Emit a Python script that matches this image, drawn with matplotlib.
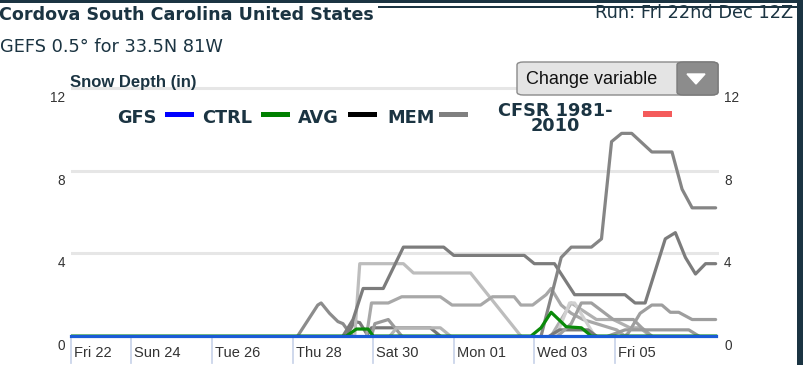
import numpy as np
import matplotlib.pyplot as plt
import matplotlib.transforms as mtransforms
from matplotlib.patches import FancyBboxPatch, Rectangle, Polygon

# forecast hours from run start (Fri 22 12Z) and snow depth in inches
gfs_hours = [0, 384]
gfs_vals = [0, 0]

ctrl_hours = [0, 164, 170, 177, 180, 274, 280, 286, 295, 304, 310, 384]
ctrl_vals = [0, 0, 0.34, 0.34, 0, 0, 0.4, 1.15, 0.45, 0.4, 0, 0]

members = [
    # (hours, values, colour)
    ([135, 147, 149, 154, 159, 162, 166, 168],
     [0, 1.5, 1.6, 1.1, 0.7, 0.6, 0.15, 0], '#8c8c8c'),
    ([164, 169, 172, 177], [0, 0.7, 0.65, 0], '#7a7a7a'),
    ([176, 179, 214, 220], [0, 0.4, 0.4, 0], '#777777'),
    ([179, 181, 189, 195, 197], [0, 0.6, 0.8, 0.2, 0], '#9a9a9a'),
    ([190, 194, 220, 226], [0, 0.4, 0.4, 0], '#b5b5b5'),
    ([169, 172, 198, 204, 238, 268], [0, 3.5, 3.5, 3.05, 3.05, 0], '#bdbdbd'),
    ([176, 179, 189, 197, 220, 227, 244, 251, 264, 268, 275, 283, 286, 292,
      298, 305, 325, 330],
     [0, 1.6, 1.6, 1.9, 1.9, 1.5, 1.5, 1.9, 1.9, 1.5, 1.5, 2.0, 2.3, 1.5,
      1.1, 0.8, 0.3, 0], '#a8a8a8'),
    ([286, 298, 313, 323, 333, 339, 345], [0, 1.6, 0.8, 0.8, 0.4, 0.4, 0], '#b0b0b0'),
    ([289, 297, 300, 312], [0, 1.6, 1.6, 0], '#d0d0d0'),
    ([285, 291, 308, 313], [0, 0.3, 0.3, 0], '#7a7a7a'),
    ([290, 298, 304, 310, 323, 335, 340, 346],
     [0, 0.6, 1.6, 1.6, 0.8, 0.8, 0.4, 0], '#a0a0a0'),
    ([320, 330, 368, 374], [0, 0.3, 0.3, 0], '#9a9a9a'),
    ([330, 332, 339, 346, 352, 357, 362, 370, 384],
     [0, 0.15, 1.1, 1.5, 1.5, 1.15, 1.15, 0.8, 0.8], '#9e9e9e'),
    ([162, 168, 174, 186, 198, 222, 228, 270, 276, 288, 300, 330, 336, 342,
      354, 360, 366, 372, 378, 384],
     [0, 0.8, 2.3, 2.3, 4.3, 4.3, 3.9, 3.9, 3.5, 3.5, 2.0, 2.0, 1.6, 1.6,
      4.7, 5.0, 3.8, 3.0, 3.5, 3.5], '#7c7c7c'),
    ([280, 292, 298, 310, 316, 322, 328, 334, 346, 358, 364, 370, 384],
     [0, 3.8, 4.3, 4.3, 4.7, 9.4, 9.8, 9.8, 8.9, 8.9, 7.1, 6.2, 6.2], '#858585'),
]

tick_hours = [0, 36, 84, 132, 180, 228, 276, 324]
tick_labels = ['Fri 22', 'Sun 24', 'Tue 26', 'Thu 28', 'Sat 30', 'Mon 01',
               'Wed 03', 'Fri 05']
y_ticks = [0, 4, 8, 12]

legend_names = ['GFS', 'CTRL', 'AVG', 'MEM']
legend_colors = ['#0000ff', '#008000', '#000000', '#808080']

W, H = 804, 365
dark = '#1b3442'


def px(x, y):
    return x / W, 1 - y / H


fig = plt.figure(figsize=(W / 100, H / 100), dpi=100)
fig.patch.set_facecolor('white')

# plot area
x0, y0 = px(71, 340)
x1, y1 = px(719, 80)
ax = fig.add_axes([x0, y0, x1 - x0, y1 - y0])
ax.set_xlim(0, 386)
ax.set_ylim(-0.19, 12.38)
for s in ax.spines.values():
    s.set_visible(False)
ax.set_yticks([])
ax.set_xticks([])
for v in y_ticks[1:]:
    ax.axhline(v, color='#e6e6e6', lw=2.2, zorder=0)

lw = 2.3
for hrs, vals, col in members:
    ax.plot(hrs, vals, color=col, lw=lw, solid_joinstyle='round',
            solid_capstyle='round', zorder=2)
ax.plot(ctrl_hours, ctrl_vals, color='#0a8a0a', lw=lw, solid_joinstyle='round', zorder=3)
ax.plot(gfs_hours, gfs_vals, color='#1a5bd6', lw=lw, zorder=4, clip_on=False)

# x ticks: light blue lines hanging below the axis
blend = mtransforms.blended_transform_factory(ax.transData, ax.transAxes)
for h, lab in zip(tick_hours, tick_labels):
    ax.plot([h, h], [0.015, -0.09], color='#ccd6eb', lw=1.3,
            transform=blend, clip_on=False)
    ax.text(h, 0, lab, transform=blend + mtransforms.ScaledTranslation(
        0.03, -0.17, fig.dpi_scale_trans), ha='left', va='baseline',
        fontsize=10.5, family='Liberation Sans', color='#333333')

# y tick labels on both sides, sitting a bit below the grid lines
yblend = mtransforms.blended_transform_factory(ax.transAxes, ax.transData)
off = mtransforms.ScaledTranslation(0, -0.1, fig.dpi_scale_trans)
for v in y_ticks:
    ax.text(-0.009, v, str(v), transform=yblend + off, ha='right', va='center',
            fontsize=9.8, family='Liberation Sans', color='#333333')
    ax.text(1.008, v, str(v), transform=yblend + off, ha='left', va='center',
            fontsize=9.8, family='Liberation Sans', color='#333333')

# header
fig.text(*px(-1, 19.5), 'Cordova South Carolina United States', ha='left',
         va='baseline', fontsize=12.6, fontweight='bold', color=dark)
fig.text(*px(793, 18.5), 'Run: Fri 22nd Dec 12Z', ha='right', va='baseline',
         fontsize=12.8, color=dark)
fig.text(*px(0, 52), 'GEFS 0.5\u00b0 for 33.5N 81W', ha='left', va='baseline',
         fontsize=12.8, color=dark)
fig.text(*px(70, 87), 'Snow Depth (in)', ha='left', va='baseline',
         fontsize=12, fontweight='bold', family='Liberation Sans', color=dark)

# frame pieces
fig.add_artist(Rectangle(px(0, 3), 1, 3 / H, transform=fig.transFigure,
                         color=dark, lw=0))
fig.add_artist(Rectangle(px(378, 8), (797 - 378) / W, 1.5 / H,
                         transform=fig.transFigure, color=dark, lw=0))
fig.add_artist(Rectangle(px(797, H), 7 / W, 1, transform=fig.transFigure,
                         color=dark, lw=0))

# legend
text_x = [117, 202, 298, 387]
swatch_x = [165, 261, 348, 439]
for name, col, tx, sx in zip(legend_names, legend_colors, text_x, swatch_x):
    fig.text(*px(tx, 123), name, ha='left', va='baseline', fontsize=12.8,
             fontweight='bold', color=dark)
    fig.add_artist(Rectangle(px(sx, 117), 29 / W, 5 / H,
                             transform=fig.transFigure, color=col, lw=0))
fig.text(*px(555, 131), 'CFSR 1981-\n2010', ha='center', va='baseline',
         multialignment='center', linespacing=0.78, fontsize=12.8,
         fontweight='bold', color=dark)
fig.add_artist(Rectangle(px(643, 117), 29 / W, 6 / H,
                         transform=fig.transFigure, color='#f45b5b', lw=0))

# "Change variable" dropdown
bx, by = px(517, 95)
fig.add_artist(FancyBboxPatch((bx, by), 201 / W, 33 / H,
                              boxstyle='round,pad=0,rounding_size=0.008',
                              transform=fig.transFigure, facecolor='#e4e4e4',
                              edgecolor='#8a8a8a', lw=1))
fig.add_artist(FancyBboxPatch(px(677, 95), 41 / W, 33 / H,
                              boxstyle='round,pad=0,rounding_size=0.008',
                              transform=fig.transFigure, facecolor='#8c8c8c',
                              edgecolor='#7a7a7a', lw=1))
fig.add_artist(Polygon([px(687, 74), px(705, 74), px(696, 84)],
                       transform=fig.transFigure, color='white'))
fig.text(*px(526, 84), 'Change variable', ha='left', va='baseline',
         fontsize=13, family='Liberation Sans', color='#111111')

fig.savefig('out.png', dpi=100)
